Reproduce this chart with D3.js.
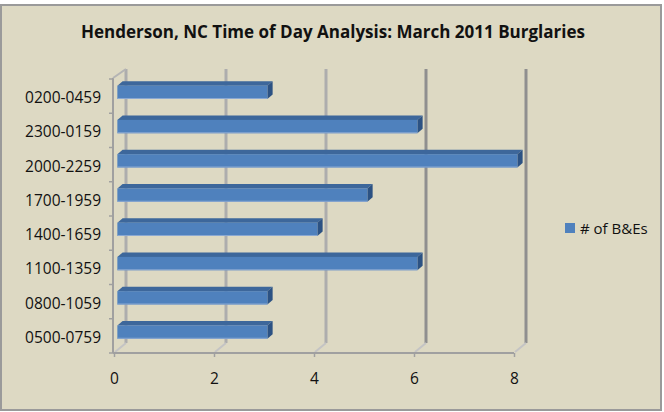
<!DOCTYPE html>
<html>
<head>
<meta charset="utf-8">
<script src="https://cdn.jsdelivr.net/npm/d3@7"></script>
<style>
  body { margin: 0; background: #fff; }
  svg { display: block; font-family: "Open Sans", "Noto Sans", sans-serif; }
</style>
</head>
<body>
<svg id="chart" width="664" height="412"></svg>
<script>
// data, top row first as drawn
const categories = ["0200-0459", "2300-0159", "2000-2259", "1700-1959", "1400-1659", "1100-1359", "0800-1059", "0500-0759"];
const burglaries = [3, 6, 8, 5, 4, 6, 3, 3];
const xTicks = [0, 2, 4, 6, 8];
const seriesName = "# of B&Es";

const svg = d3.select("#chart");

// chart area background + border
svg.append("rect")
  .attr("x", 1).attr("y", 5)
  .attr("width", 660).attr("height", 405)
  .attr("fill", "#ddd9c3")
  .attr("stroke", "#9a9a9a")
  .attr("stroke-width", 2);

// title
svg.append("text")
  .attr("x", 333)
  .attr("y", 38)
  .attr("text-anchor", "middle")
  .attr("font-size", "17px")
  .attr("font-weight", "bold")
  .attr("fill", "#111")
  .attr("textLength", 504)
  .attr("lengthAdjust", "spacingAndGlyphs")
  .text("Henderson, NC Time of Day Analysis: March 2011 Burglaries");

// 3d depth offset of the back wall
const depthX = 12, depthY = -10;

// front plane scales
let x = d3.scaleLinear().domain([0, 8]).range([114, 514]);
let y = d3.scaleBand().domain(categories).range([79, 353]);

const back = (px, py, f) => [px + depthX * f, py + depthY * f];

const g = svg.append("g");

// back gridlines
g.selectAll(".grid")
  .data(xTicks)
  .join("line")
  .attr("class", "grid")
  .attr("x1", d => x(d) + depthX)
  .attr("x2", d => x(d) + depthX)
  .attr("y1", 69)
  .attr("y2", 353 + depthY)
  .attr("stroke", d => d >= 6 ? "#8f8f8f" : "#adadad")
  .attr("stroke-width", 3);

// floor stubs from front ticks to back gridlines
g.selectAll(".floor")
  .data(xTicks)
  .join("line")
  .attr("class", "floor")
  .attr("x1", d => x(d) + 1)
  .attr("y1", 352)
  .attr("x2", d => x(d) + depthX)
  .attr("y2", 353 + depthY)
  .attr("stroke", "#c4c4c4")
  .attr("stroke-width", 2);

// left wall edge + top diagonal
g.append("line")
  .attr("x1", x(0) - 1).attr("y1", 78)
  .attr("x2", x(0) - 1).attr("y2", 353)
  .attr("stroke", "#a0a0a0").attr("stroke-width", 2);
g.append("line")
  .attr("x1", x(0) - 1).attr("y1", 78)
  .attr("x2", x(0) + depthX).attr("y2", 69)
  .attr("stroke", "#b4b4b4").attr("stroke-width", 2);

// bars (front face offset into the depth)
const f1 = 0.28, f2 = 0.72;
const barH = y.bandwidth() * 0.39;

const bars = g.selectAll(".bar")
  .data(categories.map((c, i) => ({ cat: c, v: burglaries[i] })))
  .join("g")
  .attr("class", "bar");

bars.each(function (d) {
  const sel = d3.select(this);
  const yTop = y(d.cat) + (y.bandwidth() - barH) / 2 - 1;
  const x0 = x(0), x1 = x(d.v);
  const [ax, ay] = back(x0, yTop, f1);
  const [bx, by] = back(x1, yTop, f1);
  const [cx, cy] = back(x1, yTop, f2);
  const [dx, dy] = back(x0, yTop, f2);
  // top face
  sel.append("path")
    .attr("d", `M${ax},${ay}L${bx},${by}L${cx},${cy}L${dx},${dy}Z`)
    .attr("fill", "#3d679b");
  // end face
  const [ex, ey] = back(x1, yTop + barH, f1);
  const [fx, fy] = back(x1, yTop + barH, f2);
  sel.append("path")
    .attr("d", `M${bx},${by}L${cx},${cy}L${fx},${fy}L${ex},${ey}Z`)
    .attr("fill", "#2c5283");
  // front face
  sel.append("rect")
    .attr("x", ax).attr("y", ay)
    .attr("width", bx - ax).attr("height", barH)
    .attr("fill", "#4f81bd");
  sel.append("line")
    .attr("x1", ax).attr("x2", bx)
    .attr("y1", ay + barH - 0.5).attr("y2", ay + barH - 0.5)
    .attr("stroke", "#8aa8d2").attr("stroke-width", 1);
});

// category ticks at band boundaries
g.selectAll(".ytick")
  .data(categories.map(c => y(c)).concat([353]))
  .join("line")
  .attr("class", "ytick")
  .attr("x1", x(0) - 5).attr("x2", x(0) - 1)
  .attr("y1", d => d).attr("y2", d => d)
  .attr("stroke", "#a0a0a0").attr("stroke-width", 1.5);

// y axis labels
const yAxis = svg.append("g")
  .attr("transform", `translate(${x(0) - 13},2)`)
  .call(d3.axisLeft(y).tickSize(0).tickPadding(0));
yAxis.select(".domain").remove();
yAxis.selectAll("text")
  .attr("font-size", "15.5px")
  .attr("font-family", "'Open Sans', sans-serif")
  .attr("fill", "#111");

// x axis
const xAxis = svg.append("g")
  .attr("transform", "translate(0,353)")
  .call(d3.axisBottom(x).tickValues(xTicks).tickSize(4).tickPadding(16));
xAxis.select(".domain")
  .attr("d", `M${x(0) - 1},0H${x(8)}`)
  .attr("stroke", "#a0a0a0").attr("stroke-width", 2);
xAxis.selectAll(".tick line").attr("stroke", "#a0a0a0").attr("stroke-width", 1.5);
xAxis.selectAll("text")
  .attr("font-size", "15.5px")
  .attr("font-family", "'Open Sans', sans-serif")
  .attr("fill", "#111");

// legend
const legend = svg.append("g").attr("transform", "translate(565,223)");
legend.append("rect")
  .attr("width", 10).attr("height", 10)
  .attr("fill", "#4f81bd");
legend.append("text")
  .attr("x", 15).attr("y", 10.5)
  .attr("font-size", "15px")
  .attr("fill", "#111")
  .text(seriesName);
</script>
</body>
</html>
